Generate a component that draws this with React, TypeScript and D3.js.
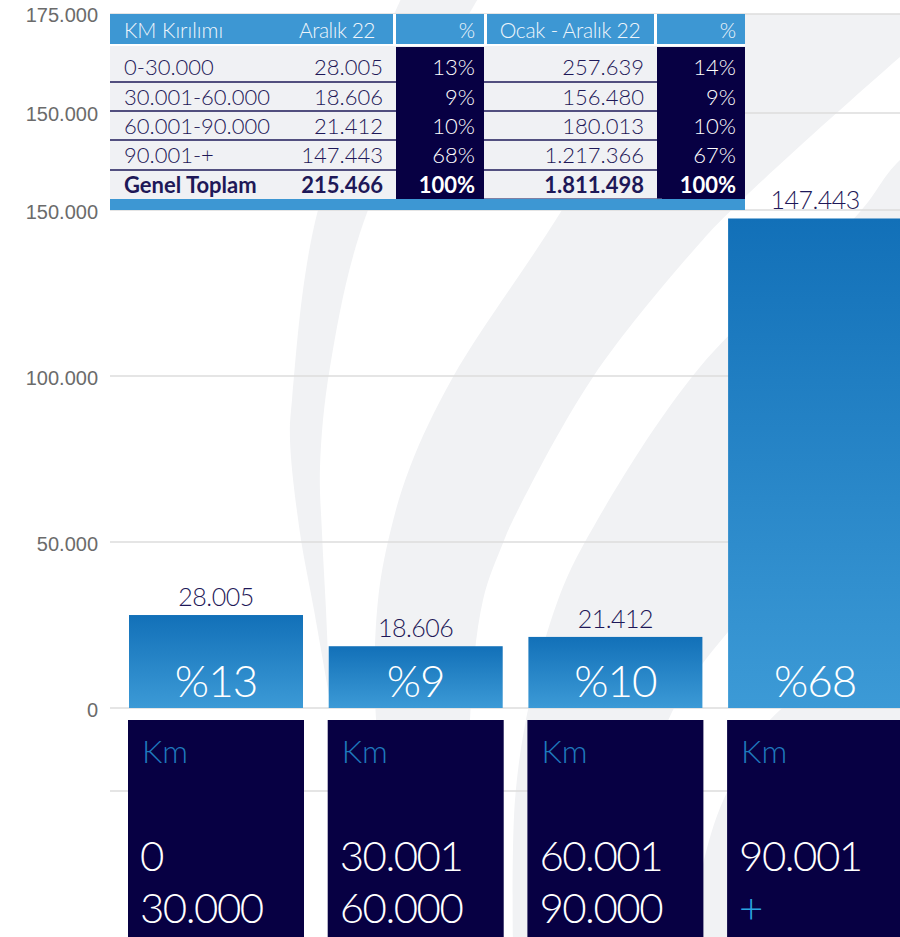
import React from "react";
import * as d3 from "d3";

// ---------- data ----------
const kmRanges = ["0-30.000", "30.001-60.000", "60.001-90.000", "90.001-+"];
const aralikValues = [28005, 18606, 21412, 147443];
const aralikPct = [13, 9, 10, 68];
const ocakAralikValues = [257639, 156480, 180013, 1217366];
const ocakAralikPct = [14, 9, 10, 67];
const totalLabel = "Genel Toplam";
const aralikTotal = 215466;
const ocakAralikTotal = 1811498;
const totalPct = 100;
const headers = ["KM Kırılımı", "Aralık 22", "%", "Ocak - Aralık 22", "%"];
const boxTitle = "Km";
const boxLines = [
  ["0", "30.000"],
  ["30.001", "60.000"],
  ["60.001", "90.000"],
  ["90.001", "+"],
];
const yTicks = [0, 50000, 100000, 150000];
const yExtraGrid = [-25000];
const upperTicks = [150000, 175000];

// ---------- helpers ----------
const locale = d3.formatLocale({ decimal: ",", thousands: ".", grouping: [3], currency: ["", ""] });
const fmt = locale.format(",d");

const W = 900;
const H = 937;
const NAVY = "#070043";
const TEXT_NAVY = "#1e1858";
const BLUE = "#3d97d3";
const GREY_BAND = "#f1f2f4";
const FONT = "Lato, 'Open Sans', sans-serif";

// decorative background swoosh bands (left edge top->bottom, right edge bottom->top)
const bands: { clip: boolean; pts: [number, number][][] }[] = [
  {
    clip: false,
    pts: [
      [[405, -10], [318, 210], [292, 400], [290, 440], [300, 533], [314, 610], [330, 700]],
      [[330, 700], [326, 610], [322, 533], [320, 467], [330, 367], [368, 210], [483, -10]],
    ],
  },
  {
    clip: true,
    pts: [
      [[690, -10], [562, 210], [453, 377], [410, 467], [390, 533], [378, 600], [375, 700], [385, 800], [405, 950]],
      [[475, 950], [470, 720], [483, 600], [503, 543], [513, 520], [593, 377], [700, 243], [745, 197], [900, 57], [980, -10]],
    ],
  },
  {
    clip: true,
    pts: [
      [[1000, 90], [900, 160], [859, 213], [700, 367], [590, 533], [558, 600], [530, 700], [515, 800], [513, 950]],
      [[620, 950], [645, 800], [672, 712], [728, 632], [800, 560], [1000, 380]],
    ],
  },
  {
    clip: true,
    pts: [
      [[1000, 600], [780, 710], [728, 790], [704, 860], [690, 950]],
      [[1000, 950]],
    ],
  },
];

const edge = d3.line<[number, number]>().curve(d3.curveCatmullRom.alpha(0.5));
function bandPath(b: [number, number][][]) {
  const a = edge(b[0]) || "";
  const c = b[1].length > 1 ? (edge(b[1]) || "").replace(/^M/, "L") : `L${b[1][0][0]},${b[1][0][1]}`;
  return a + c + "Z";
}

export default function App() {
  const x = d3.scaleBand<string>().domain(kmRanges).range([103.3, 927.8]).padding(0.1287);
  const y = d3.scaleLinear().domain([0, 150000]).range([708, 210]);
  const yUpper = d3.scaleLinear().domain([150000, 175000]).range([113, 14]);

  const gridYs = [...yExtraGrid, ...yTicks].map((v) => y(v)).concat(upperTicks.map((v) => yUpper(v)));

  const headerCells = [
    [110, 393],
    [396, 484],
    [487, 654],
    [657, 745],
  ];
  const tX0 = 110, tX1 = 745;
  const rowBaselines = [75, 105, 134, 163, 193];
  const sepYs = [82, 111, 140, 170];

  const rows = kmRanges.map((k, i) => ({
    label: k,
    a: fmt(aralikValues[i]),
    ap: `${aralikPct[i]}%`,
    o: fmt(ocakAralikValues[i]),
    op: `${ocakAralikPct[i]}%`,
    bold: false,
  }));
  rows.push({
    label: totalLabel,
    a: fmt(aralikTotal),
    ap: `${totalPct}%`,
    o: fmt(ocakAralikTotal),
    op: `${totalPct}%`,
    bold: true,
  });

  return (
    <svg width={W} height={H} style={{ position: "absolute", left: 0, top: 0, background: "#fff" }}>
      <defs>
        <linearGradient id="barGrad" x1="0" y1="0" x2="0" y2="1">
          <stop offset="0%" stopColor="#1270b8" />
          <stop offset="100%" stopColor="#3c9ad6" />
        </linearGradient>
        <clipPath id="plotClip">
          <rect x={0} y={14} width={W} height={H} />
        </clipPath>
      </defs>

      {/* background swoosh */}
      {bands.map((b, i) => (
        <path key={i} d={bandPath(b.pts)} fill={GREY_BAND} clipPath={b.clip ? "url(#plotClip)" : undefined} />
      ))}

      {/* gridlines */}
      {gridYs.map((gy, i) => (
        <line key={i} x1={110} x2={W} y1={gy} y2={gy} stroke="#dcdcdc" strokeWidth={1.5} />
      ))}

      {/* axis labels */}
      {yTicks.map((v) => (
        <text key={"t" + v} x={98} y={y(v) + 2} textAnchor="end" dominantBaseline="central"
          fontFamily="'Liberation Sans', Arial, sans-serif" fontSize={20} fill="#6b6b6b">
          {fmt(v)}
        </text>
      ))}
      {upperTicks.map((v) => (
        <text key={"u" + v} x={98} y={yUpper(v) + 1} textAnchor="end" dominantBaseline="central"
          fontFamily="'Liberation Sans', Arial, sans-serif" fontSize={20} fill="#6b6b6b">
          {fmt(v)}
        </text>
      ))}

      {/* bars */}
      {kmRanges.map((k, i) => {
        const bx = x(k) as number;
        const bw = x.bandwidth();
        const top = y(aralikValues[i]);
        return (
          <g key={k}>
            <rect x={bx} y={top} width={bw} height={y(0) - top} fill="url(#barGrad)" />
            <text x={bx + bw / 2} y={top - 9} textAnchor="middle" fontFamily={FONT} fontWeight={300}
              fontSize={25} fill={TEXT_NAVY} letterSpacing={-0.5}>
              {fmt(aralikValues[i])}
            </text>
            <text x={bx + bw / 2} y={697} textAnchor="middle" fontFamily={FONT} fontWeight={300}
              fontSize={44} fill="#fff" letterSpacing={-1}>
              {`%${aralikPct[i]}`}
            </text>
          </g>
        );
      })}

      {/* bottom category boxes */}
      {kmRanges.map((k, i) => {
        const bx = (x(k) as number) - 1;
        const bw = x.bandwidth() + 2;
        return (
          <g key={"box" + k}>
            <rect x={bx} y={720} width={bw} height={H - 720 + 5} fill={NAVY} />
            <text x={bx + 14} y={763} fontFamily={FONT} fontWeight={300} fontSize={32} fill="#1f79bd">
              {boxTitle}
            </text>
            <text x={bx + 12} y={871} fontFamily={FONT} fontWeight={300} fontSize={42} fill="#fff" letterSpacing={-1.5}>
              {boxLines[i][0]}
            </text>
            <text x={bx + 12} y={923} fontFamily={FONT} fontWeight={300} fontSize={42}
              fill={boxLines[i][1] === "+" ? "#2aa3e0" : "#fff"} letterSpacing={-1.5}>
              {boxLines[i][1]}
            </text>
          </g>
        );
      })}

      {/* table */}
      <g>
        <rect x={tX0} y={14} width={tX1 - tX0} height={196} fill="#fff" />
        {headerCells.map((c, i) => (
          <rect key={i} x={c[0]} y={14} width={c[1] - c[0]} height={30} fill={BLUE} />
        ))}
        <rect x={tX0} y={46} width={tX1 - tX0} height={154} fill="#f0f1f4" />
        <rect x={396} y={47} width={88} height={152} fill={NAVY} />
        <rect x={657} y={47} width={88} height={152} fill={NAVY} />
        {sepYs.map((sy) => (
          <g key={sy}>
            <line x1={110} x2={396} y1={sy} y2={sy} stroke={TEXT_NAVY} strokeWidth={1.5} />
            <line x1={484} x2={657} y1={sy} y2={sy} stroke={TEXT_NAVY} strokeWidth={1.5} />
          </g>
        ))}
        <line x1={484} x2={662} y1={199} y2={199} stroke="#5a5a8a" strokeWidth={1.5} />
        <rect x={tX0} y={199} width={tX1 - tX0} height={11} fill={BLUE} />

        {/* header text */}
        <g fontFamily={FONT} fontWeight={300} fontSize={21} fill="#eef5fb">
          <text x={124} y={38}>{headers[0]}</text>
          <text x={375} y={38} textAnchor="end" letterSpacing={-0.5}>{headers[1]}</text>
          <text x={475} y={38} textAnchor="end">{headers[2]}</text>
          <text x={570} y={38} textAnchor="middle" letterSpacing={-0.3}>{headers[3]}</text>
          <text x={736} y={38} textAnchor="end">{headers[4]}</text>
        </g>

        {/* body text */}
        {rows.map((r, i) => (
          <g key={r.label} fontFamily={FONT} fontSize={22} fontWeight={r.bold ? 700 : 300}>
            <text x={124} y={rowBaselines[i]} fill={TEXT_NAVY}>{r.label}</text>
            <text x={383} y={rowBaselines[i]} textAnchor="end" fill={TEXT_NAVY}>{r.a}</text>
            <text x={475} y={rowBaselines[i]} textAnchor="end" fill="#fff">{r.ap}</text>
            <text x={644} y={rowBaselines[i]} textAnchor="end" fill={TEXT_NAVY}>{r.o}</text>
            <text x={736} y={rowBaselines[i]} textAnchor="end" fill="#fff">{r.op}</text>
          </g>
        ))}
      </g>
    </svg>
  );
}
